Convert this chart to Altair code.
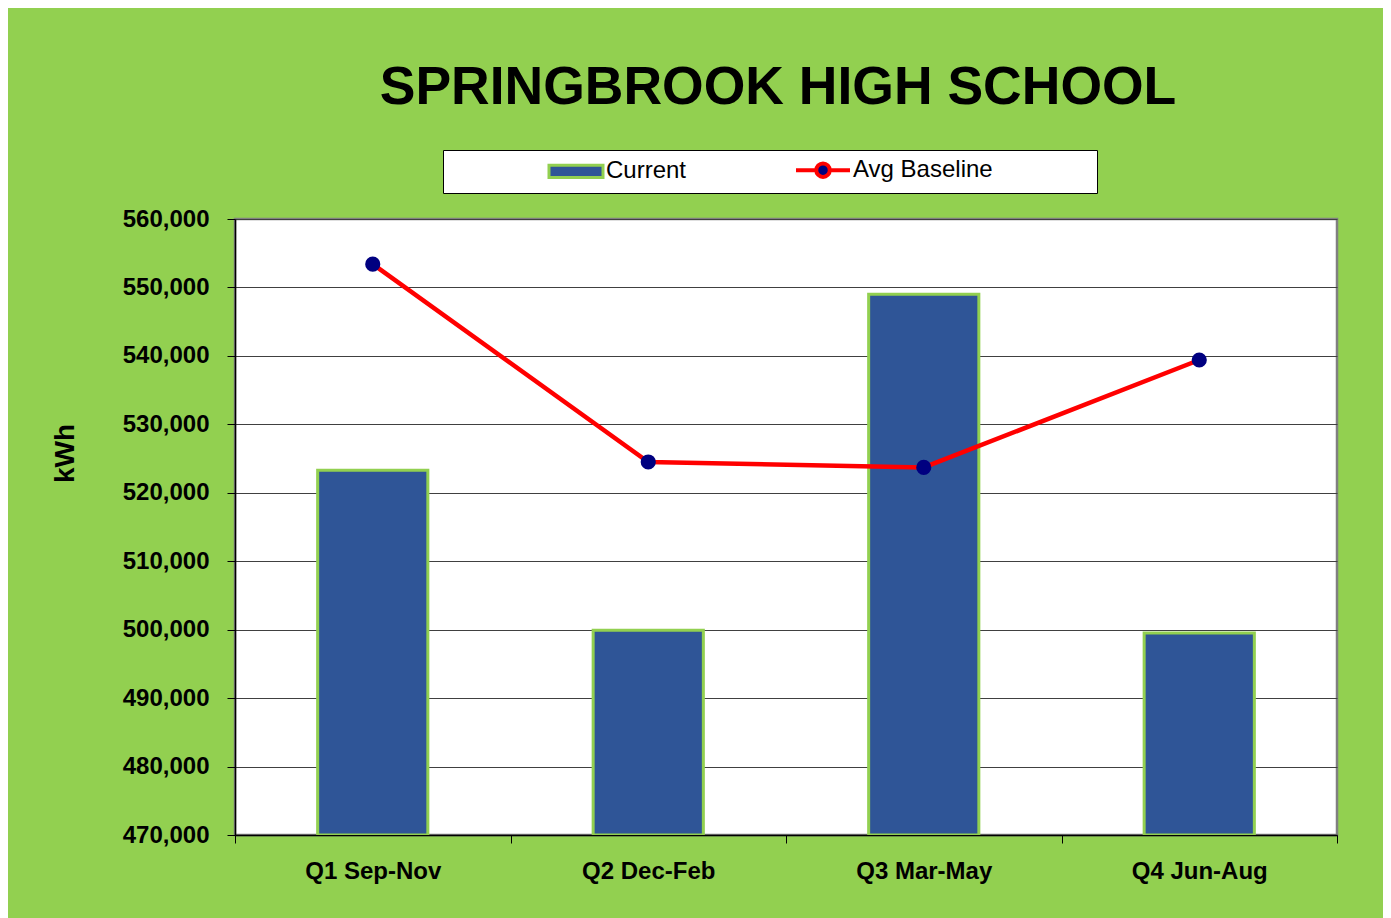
import altair as alt
import pandas as pd

quarters = ["Q1 Sep-Nov", "Q2 Dec-Feb", "Q3 Mar-May", "Q4 Jun-Aug"]
current = [523300, 499900, 549000, 499500]
baseline = [553400, 524500, 523700, 539400]
series_names = ["Current", "Avg Baseline"]
y_min, y_max = 470000, 560000
y_ticks = [470000, 480000, 490000, 500000, 510000, 520000, 530000, 540000, 550000, 560000]

df_cur = pd.DataFrame({"quarter": quarters, "kwh": current, "series": "Current"})
df_base = pd.DataFrame({"quarter": quarters, "kwh": baseline, "series": "Avg Baseline"})

GREEN = "#92D050"
BAR = "#2F5597"
NAVY = "#000080"
RED = "#FF0000"
FONT = "Liberation Sans, Arial"

x_enc = alt.X(
    "quarter:N",
    sort=quarters,
    scale=alt.Scale(paddingInner=0, paddingOuter=0),
    axis=alt.Axis(
        title=None,
        labelAngle=0,
        labelFont=FONT,
        labelFontSize=24,
        labelFontWeight="bold",
        labelColor="black",
        labelPadding=16,
        tickBand="extent",
        tickSize=8,
        tickColor="black",
        domainColor="black",
        domainWidth=1.5,
        grid=False,
    ),
)

y_scale = alt.Scale(domain=[y_min, y_max], zero=False, nice=False)
y_axis = alt.Axis(
    values=y_ticks,
    format=",d",
    title="kWh",
    titleFont=FONT,
    titleFontSize=28,
    titleFontWeight="bold",
    titleColor="black",
    titleAngle=270,
    titleAlign="center",
    titleBaseline="alphabetic",
    titleX=-162,
    titleY=234,
    labelFont=FONT,
    labelFontSize=24,
    labelFontWeight="bold",
    labelColor="black",
    labelPadding=18,
    tickSize=8,
    tickColor="black",
    domainColor="black",
    domainWidth=1.5,
    grid=True,
    gridColor="#404040",
    gridWidth=1.2,
)

shape_expr = (
    "datum.value === 'Current' ? 'M-1,-0.23H1V0.23H-1Z' : "
    "'M-1,0H-0.27M0.27,0H1M0.25,0A0.25,0.25,0,1,1,-0.25,0A0.25,0.25,0,1,1,0.25,0Z'"
)

bars = alt.Chart(df_cur).mark_bar(
    width={"band": 0.4}, stroke=GREEN, strokeWidth=3, clip=True
).encode(
    x=x_enc,
    y=alt.Y("kwh:Q", scale=y_scale, axis=y_axis),
    y2=alt.Y2(datum=y_min),
    fill=alt.Fill(
        "series:N",
        scale=alt.Scale(domain=series_names, range=[BAR, NAVY]),
        legend=alt.Legend(
            title="\u00a0",
            titleOrient="right",
            titlePadding=96,
            titleFontSize=10,
            orient="none",
            legendX=208,
            legendY=-69,
            direction="horizontal",
            fillColor="white",
            strokeColor="black",
            padding=8,
            symbolOffset=113,
            symbolSize=2916,
            symbolType={"expr": shape_expr},
            symbolStrokeColor={"expr": "datum.value === 'Current' ? '%s' : '%s'" % (GREEN, RED)},
            symbolStrokeWidth={"expr": "datum.value === 'Current' ? 3 : 4"},
            symbolOpacity=1,
            labelFont=FONT,
            labelFontSize=24,
            labelColor="black",
            labelOffset=18,
            labelLimit=300,
            columnPadding=11,
        ),
    ),
)

line = alt.Chart(df_base).mark_line(color=RED, strokeWidth=4.5).encode(
    x=alt.X("quarter:N", sort=quarters),
    y=alt.Y("kwh:Q", scale=y_scale),
)

points = alt.Chart(df_base).mark_circle(color=NAVY, size=230, opacity=1).encode(
    x=alt.X("quarter:N", sort=quarters),
    y=alt.Y("kwh:Q", scale=y_scale),
)

chart = (
    alt.layer(bars, line, points)
    .properties(
        width=1102,
        height=616,
        autosize=alt.AutoSizeParams(type="none"),
        padding={"left": 227, "top": 211, "right": 46, "bottom": 90},
        background=GREEN,
        title=alt.TitleParams(
            "SPRINGBROOK HIGH SCHOOL",
            font=FONT,
            fontSize=53.5,
            fontWeight="bold",
            color="black",
            anchor="middle",
            frame="group",
            baseline="alphabetic",
            offset=46,
            dy=54,
            dx=-8,
        ),
    )
    .configure_view(fill="white", stroke="#808080", strokeWidth=2.5)
)

chart.save("out.html", embed_options={"renderer": "svg", "actions": False})
